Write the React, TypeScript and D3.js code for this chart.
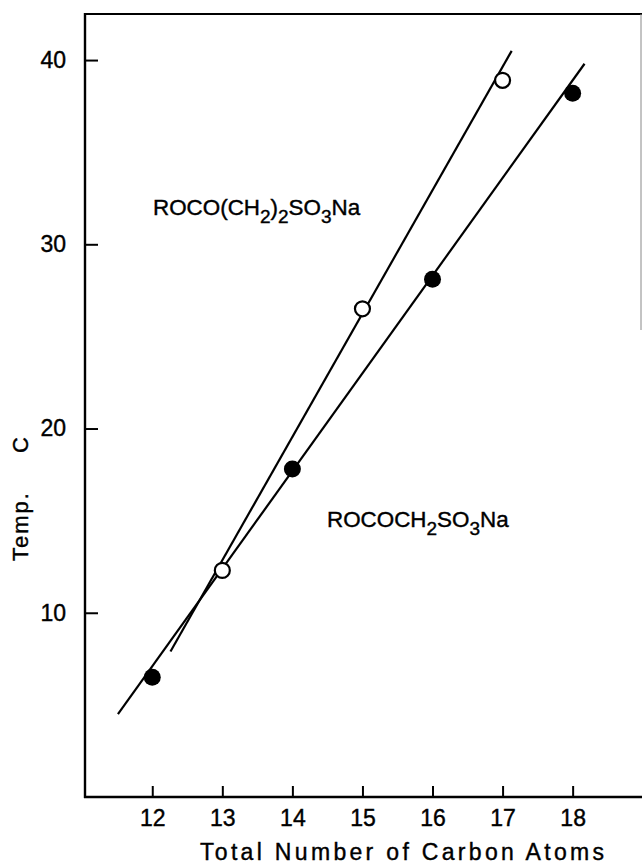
import { useEffect, useRef } from 'react';
import * as d3 from 'd3';

// carbon numbers and temperatures
const carbonsOpen = [13, 15, 17];
const tempsOpen = [12.3, 26.5, 38.9];
const carbonsFilled = [12, 14, 16, 18];
const tempsFilled = [6.5, 17.8, 28.1, 38.2];

// hand drawn straight lines through each series (ends, in data units)
const lineOpenX = [12.26, 17.13];
const lineOpenY = [7.9, 40.5];
const lineFilledX = [11.51, 18.17];
const lineFilledY = [4.5, 39.8];

const xTicks = [12, 13, 14, 15, 16, 17, 18];
const yTicks = [10, 20, 30, 40];

const FONT = '"Liberation Sans", Arial, sans-serif';

const App = () => {
  const ref = useRef<SVGSVGElement>(null);

  useEffect(() => {
    const svg = d3.select(ref.current);
    svg.selectAll('*').remove();

    const left = 85, right = 642, top = 14, bottom = 797;

    const x = d3.scaleLinear().domain([11.04, 18.99]).range([left, right]);
    const y = d3.scaleLinear().domain([0, 42.5]).range([bottom, top]);

    // frame: left axis, bottom axis, top line, faint right edge
    svg.append('line').attr('x1', left).attr('x2', left).attr('y1', top - 1).attr('y2', bottom + 1)
      .attr('stroke', '#000').attr('stroke-width', 2.4);
    svg.append('line').attr('x1', left - 1).attr('x2', right).attr('y1', bottom).attr('y2', bottom)
      .attr('stroke', '#000').attr('stroke-width', 2.4);
    svg.append('line').attr('x1', left).attr('x2', right).attr('y1', top).attr('y2', top)
      .attr('stroke', '#000').attr('stroke-width', 2.2);
    svg.append('line').attr('x1', 641).attr('x2', 641).attr('y1', top).attr('y2', 330)
      .attr('stroke', '#888').attr('stroke-width', 1);

    // axes (ticks point inward)
    const xAxis = svg.append('g')
      .attr('transform', `translate(0,${bottom})`)
      .call(d3.axisBottom(x).tickValues(xTicks).tickSize(-11).tickPadding(13).tickFormat(d3.format('d')));
    const yAxis = svg.append('g')
      .attr('transform', `translate(${left},0)`)
      .call(d3.axisLeft(y).tickValues(yTicks).tickSize(-13).tickPadding(19).tickFormat(d3.format('d')));

    [xAxis, yAxis].forEach(a => {
      a.attr('font-size', null).attr('font-family', null);
      a.select('.domain').remove();
      a.selectAll('line').attr('stroke', '#000').attr('stroke-width', 2);
      a.selectAll('text')
        .style('font-family', FONT).style('font-size', '23px').attr('fill', '#000')
        .attr('stroke', '#000').attr('stroke-width', 0.4);
    });

    // fitted lines
    const line = d3.line<[number, number]>().x(d => x(d[0])).y(d => y(d[1]));
    const openLine = lineOpenX.map((v, i) => [v, lineOpenY[i]] as [number, number]);
    const filledLine = lineFilledX.map((v, i) => [v, lineFilledY[i]] as [number, number]);
    [openLine, filledLine].forEach(pts => {
      svg.append('path').attr('d', line(pts)).attr('fill', 'none')
        .attr('stroke', '#000').attr('stroke-width', 2.2);
    });

    // points
    svg.selectAll('circle.open').data(carbonsOpen).enter().append('circle')
      .attr('class', 'open')
      .attr('cx', d => x(d)).attr('cy', (d, i) => y(tempsOpen[i]))
      .attr('r', 7.5).attr('fill', '#fff').attr('stroke', '#000').attr('stroke-width', 2.2);
    svg.selectAll('circle.filled').data(carbonsFilled).enter().append('circle')
      .attr('class', 'filled')
      .attr('cx', d => x(d)).attr('cy', (d, i) => y(tempsFilled[i]))
      .attr('r', 8.5).attr('fill', '#000');

    // axis titles
    svg.append('text').attr('x', 200).attr('y', 860)
      .style('font-family', FONT).style('font-size', '23px')
      .attr('stroke', '#000').attr('stroke-width', 0.4)
      .attr('textLength', 404).attr('lengthAdjust', 'spacing')
      .text('Total Number of Carbon Atoms');
    svg.append('text').attr('transform', 'translate(28,561) rotate(-90)')
      .style('font-family', FONT).style('font-size', '22px').style('letter-spacing', '2px')
      .attr('stroke', '#000').attr('stroke-width', 0.4)
      .text('Temp.');
    svg.append('text').attr('transform', 'translate(28,437) rotate(-90)')
      .attr('text-anchor', 'end')
      .style('font-family', FONT).style('font-size', '22px')
      .attr('stroke', '#000').attr('stroke-width', 0.4)
      .text('C');

    // compound labels with subscripts
    const formula = (px: number, py: number, parts: [string, boolean][]) => {
      const t = svg.append('text').attr('x', px).attr('y', py)
        .style('font-family', FONT).style('font-size', '22.4px').attr('fill', '#000')
        .attr('stroke', '#000').attr('stroke-width', 0.4);
      let sub = false;
      parts.forEach(([s, isSub]) => {
        const span = t.append('tspan').text(s);
        if (isSub && !sub) span.attr('dy', 8);
        if (!isSub && sub) span.attr('dy', -8);
        if (isSub) span.style('font-size', '19px');
        sub = isSub;
      });
    };
    formula(153, 215, [['ROCO(CH', false], ['2', true], [')', false], ['2', true], ['SO', false], ['3', true], ['Na', false]]);
    formula(327, 527, [['ROCOCH', false], ['2', true], ['SO', false], ['3', true], ['Na', false]]);
  }, []);

  return (
    <svg ref={ref} width={642} height={867}
      style={{ position: 'absolute', left: 0, top: 0, background: '#fff' }} />
  );
};

export default App;
